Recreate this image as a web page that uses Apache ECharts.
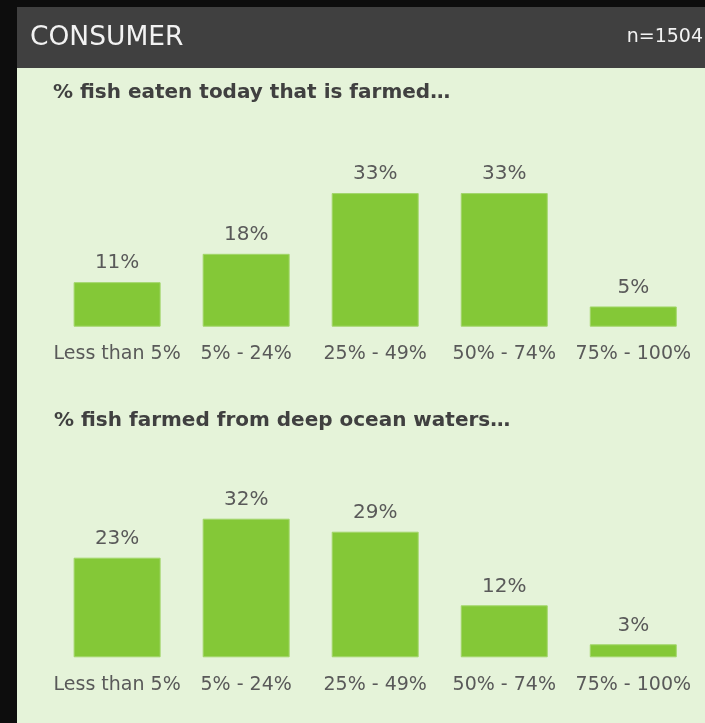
<!DOCTYPE html>
<html>
<head>
<meta charset="utf-8">
<style>
  html, body { margin: 0; padding: 0; background: #0d0d0d; }
  #chart { width: 705px; height: 723px; }
</style>
<script src="https://cdn.jsdelivr.net/npm/echarts@6/dist/echarts.min.js"></script>
</head>
<body>
<div id="chart"></div>
<script>
// Survey answer bands shared by both questions
const categories = ['Less than 5%', '5% - 24%', '25% - 49%', '50% - 74%', '75% - 100%'];
// Share of respondents (%) per band
const farmedToday = [11, 18, 33, 33, 5];
const deepOcean = [23, 32, 29, 12, 3];

const headerTitle = 'CONSUMER';
const sampleSize = 'n=1504';
const question1 = '% fish eaten today that is farmed…';
const question2 = '% fish farmed from deep ocean waters…';

const FONT = '"DejaVu Sans", sans-serif';
const BAR = '#84c837';
const LABEL = '#595959';

const chart = echarts.init(document.getElementById('chart'), null, { renderer: 'canvas' });

function xAxisFor(gridIndex) {
  return {
    type: 'category',
    gridIndex: gridIndex,
    data: categories,
    axisLine: { show: false },
    axisTick: { show: false },
    axisLabel: {
      color: LABEL,
      fontFamily: FONT,
      fontSize: 19,
      margin: 18,
      interval: 0
    }
  };
}

function yAxisFor(gridIndex) {
  return {
    type: 'value',
    gridIndex: gridIndex,
    min: 0,
    max: 35,
    show: false
  };
}

function seriesFor(data, index) {
  return {
    type: 'bar',
    xAxisIndex: index,
    yAxisIndex: index,
    data: data,
    barWidth: 87,
    itemStyle: { color: BAR, borderColor: '#a2d66a', borderWidth: 1 },
    label: {
      show: true,
      position: 'top',
      distance: 9,
      formatter: '{c}%',
      color: LABEL,
      fontFamily: FONT,
      fontSize: 20
    },
    animation: false
  };
}

chart.setOption({
  backgroundColor: '#0d0d0d',
  animation: false,
  graphic: [
    { type: 'rect', shape: { x: 17, y: 7, width: 688, height: 61 }, style: { fill: '#404040' }, z: -10 },
    { type: 'rect', shape: { x: 17, y: 68, width: 688, height: 655 }, style: { fill: '#e5f3d9' }, z: -10 }
  ],
  title: [
    { text: headerTitle, left: 30, top: 25, textStyle: { color: '#f2f2f2', fontFamily: FONT, fontSize: 26.5, fontWeight: 'normal' }, padding: 0 },
    { text: sampleSize, right: 2, top: 28, textStyle: { color: '#f2f2f2', fontFamily: FONT, fontSize: 19, fontWeight: 'normal' }, padding: 0 },
    { text: question1, left: 53, top: 83, textStyle: { color: '#404040', fontFamily: FONT, fontSize: 20, fontWeight: 'bold' }, padding: 0 },
    { text: question2, left: 54, top: 411, textStyle: { color: '#404040', fontFamily: FONT, fontSize: 20, fontWeight: 'bold' }, padding: 0 }
  ],
  grid: [
    { left: 52.6, width: 645.2, top: 185, height: 141.7 },
    { left: 52.6, width: 645.2, top: 505.7, height: 151.6 }
  ],
  xAxis: [xAxisFor(0), xAxisFor(1)],
  yAxis: [yAxisFor(0), yAxisFor(1)],
  series: [seriesFor(farmedToday, 0), seriesFor(deepOcean, 1)]
});
</script>
</body>
</html>
